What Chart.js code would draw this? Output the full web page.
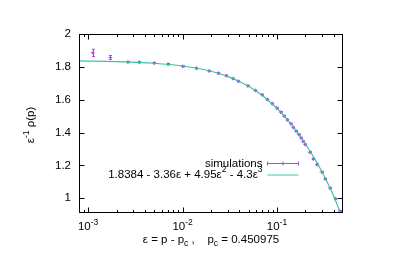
<!DOCTYPE html>
<html>
<head>
<meta charset="utf-8">
<script src="https://cdn.jsdelivr.net/npm/chart.js@4.4.1/dist/chart.umd.min.js"></script>
<style>
html,body{margin:0;padding:0;background:#fff;}
canvas{display:block;}
</style>
</head>
<body>
<canvas id="c" width="397" height="280"></canvas>
<script>
// ---- data ----
const simEps = [0.00112,0.00172,0.00263,0.00347,0.005,0.007,0.010,0.014,0.019,0.024,0.029,0.034,0.039,0.049,0.059,0.069,0.079,0.089,0.099,0.109,0.119,0.129,0.139,0.149,0.159,0.169,0.179,0.189,0.199,0.223,0.243,0.264,0.296,0.324,0.363,0.416,0.46];
const simRho = [1.885,1.857,1.829,1.828,1.823,1.816,1.803,1.791,1.775,1.761,1.746,1.728,1.712,1.684,1.656,1.630,1.601,1.576,1.549,1.524,1.500,1.477,1.454,1.431,1.409,1.388,1.367,1.346,1.327,1.280,1.239,1.205,1.160,1.118,1.062,0.996,0.922];
const simErr = [0.022,0.012,0.004,0.004,0.004,0.004,0.004,0.004,0.004,0.004,0.004,0.004,0.004,0.004,0.004,0.004,0.004,0.004,0.004,0.004,0.004,0.004,0.004,0.004,0.004,0.004,0.004,0.004,0.004,0.004,0.004,0.004,0.004,0.004,0.004,0.004,0.004];
const fitEps = [0.0008,0.002,0.005,0.01,0.02,0.03,0.05,0.07,0.1,0.13,0.16,0.2,0.25,0.3,0.35,0.4,0.45,0.48];
const fitVal = [1.836,1.832,1.822,1.805,1.773,1.742,1.682,1.626,1.548,1.476,1.410,1.330,1.241,1.160,1.084,1.011,0.937,0.891];
const yTicks = [1,1.2,1.4,1.6,1.8,2];
const yTickLabels = ['1','1.2','1.4','1.6','1.8','2'];
const xTicks = [0.001,0.01,0.1];
const xTickExp = ['-3','-2','-1'];
const legendLabels = ['simulations','1.8384 - 3.36ε + 4.95ε² - 4.3ε³'];

const FONT = '"Liberation Sans", Arial, Helvetica, sans-serif';
const PURPLE = '#a748e0';
const GREEN = '#3cc4a0';

const simData = simEps.map((e,i)=>({x:e,y:simRho[i]}));
const fitData = fitEps.map((e,i)=>({x:e,y:fitVal[i]}));

function drawPieces(ctx, pieces, x, y, align){
  let w = 0;
  pieces.forEach(p=>{ctx.font = p[1]+'px '+FONT; w += ctx.measureText(p[0]).width;});
  let cx = align==='right' ? x - w : (align==='center' ? x - w/2 : x);
  pieces.forEach(p=>{
    ctx.font = p[1]+'px '+FONT;
    ctx.textAlign='left';
    ctx.fillText(p[0], cx, y + p[2]);
    cx += ctx.measureText(p[0]).width;
  });
  return w;
}

const decor = {
  id:'decor',
  beforeDatasetsDraw(chart){
    const ctx = chart.ctx, xs = chart.scales.x, ys = chart.scales.y, a = chart.chartArea;
    ctx.save();
    ctx.beginPath(); ctx.rect(a.left,a.top,a.right-a.left,a.bottom-a.top); ctx.clip();
    ctx.strokeStyle = PURPLE; ctx.lineWidth = 1;
    simEps.forEach((e,i)=>{
      const x = Math.round(xs.getPixelForValue(e))+0.5;
      const y1 = ys.getPixelForValue(simRho[i]-simErr[i]);
      const y2 = ys.getPixelForValue(simRho[i]+simErr[i]);
      ctx.beginPath();
      ctx.moveTo(x,y1); ctx.lineTo(x,y2);
      ctx.moveTo(x-1.5,y1); ctx.lineTo(x+1.5,y1);
      ctx.moveTo(x-1.5,y2); ctx.lineTo(x+1.5,y2);
      ctx.stroke();
    });
    ctx.restore();
  },
  afterDraw(chart){
    const ctx = chart.ctx, xs = chart.scales.x, ys = chart.scales.y, a = chart.chartArea;
    ctx.save();
    ctx.strokeStyle = '#000'; ctx.lineWidth = 1;
    const L = Math.round(a.left)+0.5, R = Math.round(a.right)-0.5, T = Math.round(a.top)+0.5, B = Math.round(a.bottom)-0.5;
    ctx.strokeRect(L, T, R-L, B-T);
    ctx.beginPath();
    yTicks.forEach(v=>{
      const y = Math.round(ys.getPixelForValue(v))+0.5;
      ctx.moveTo(L,y); ctx.lineTo(L+5,y);
      ctx.moveTo(R,y); ctx.lineTo(R-5,y);
    });
    [0.0001].concat(xTicks).forEach(d=>{
      for(let k=1;k<=9;k++){
        const v = d*k;
        const x = Math.round(xs.getPixelForValue(v))+0.5;
        if(x<=L+0.5||x>=R-0.5) continue;
        const len = k===1?5:2.5;
        ctx.moveTo(x,B); ctx.lineTo(x,B-len);
        ctx.moveTo(x,T); ctx.lineTo(x,T+len);
      }
    });
    ctx.stroke();
    ctx.fillStyle = '#000';
    ctx.textBaseline = 'alphabetic';
    xTicks.forEach((v,i)=>{
      const x = xs.getPixelForValue(v);
      drawPieces(ctx, [['10',11.5,0],[xTickExp[i],8.5,-5]], x, 229.5, 'center');
    });
    drawPieces(ctx, [['ε = p - p',11.5,0],['c',8.5,3],[' ,    p',11.5,0],['c',8.5,3],[' = 0.450975',11.5,0]], (a.left+a.right)/2, 243, 'center');
    ctx.save();
    ctx.translate(34, 125);
    ctx.rotate(-Math.PI/2);
    drawPieces(ctx, [['ε',11.5,0],['-1',8.5,-5],[' ρ(p)',11.5,0]], 0, 0, 'center');
    ctx.restore();
    ctx.textBaseline = 'middle';
    const ly1 = 163.5, ly2 = 174.5, lx = 262.5;
    drawPieces(ctx, [[legendLabels[0],11.5,0]], lx, ly1, 'right');
    drawPieces(ctx, [['1.8384 - 3.36ε + 4.95ε',11.5,0],['2',8.5,-5],[' - 4.3ε',11.5,0],['3',8.5,-5]], lx, ly2, 'right');
    ctx.strokeStyle = PURPLE; ctx.lineWidth = 1;
    ctx.beginPath();
    ctx.moveTo(267.5,ly1); ctx.lineTo(298.5,ly1);
    ctx.moveTo(267.5,ly1-2); ctx.lineTo(267.5,ly1+2);
    ctx.moveTo(298.5,ly1-2); ctx.lineTo(298.5,ly1+2);
    ctx.moveTo(283,ly1-2); ctx.lineTo(283,ly1+2);
    ctx.stroke();
    ctx.strokeStyle = GREEN;
    ctx.beginPath();
    ctx.moveTo(267.5,ly2+0.5); ctx.lineTo(298.5,ly2+0.5);
    ctx.stroke();
    ctx.restore();
  }
};

new Chart(document.getElementById('c'), {
  type:'scatter',
  data:{
    datasets:[
      {label:legendLabels[0], data:simData, showLine:false, pointStyle:'cross', pointRadius:1.8, borderColor:PURPLE, backgroundColor:PURPLE, borderWidth:1, order:1},
      {label:legendLabels[1], data:fitData, showLine:true, pointRadius:0, borderColor:GREEN, borderWidth:1.2, cubicInterpolationMode:'monotone', order:0}
    ]
  },
  options:{
    responsive:false,
    animation:false,
    devicePixelRatio:1,
    layout:{padding:{left:0,right:54,top:34,bottom:0}},
    plugins:{legend:{display:false},tooltip:{enabled:false}},
    scales:{
      x:{type:'logarithmic', min:0.0008, max:0.5,
         grid:{display:false,drawTicks:false}, border:{display:false},
         ticks:{display:false},
         afterFit:s=>{s.height=67;}},
      y:{type:'linear', min:0.91, max:2,
         grid:{display:false,drawTicks:false}, border:{display:false},
         afterBuildTicks:s=>{s.ticks = yTicks.map(v=>({value:v}));},
         ticks:{color:'#000', padding:8, font:{family:FONT,size:11.5},
                callback:(v)=>{const i=yTicks.indexOf(v);return i>=0?yTickLabels[i]:'';}},
         afterFit:s=>{s.width=79;}}
    }
  },
  plugins:[decor]
});
</script>
</body>
</html>
